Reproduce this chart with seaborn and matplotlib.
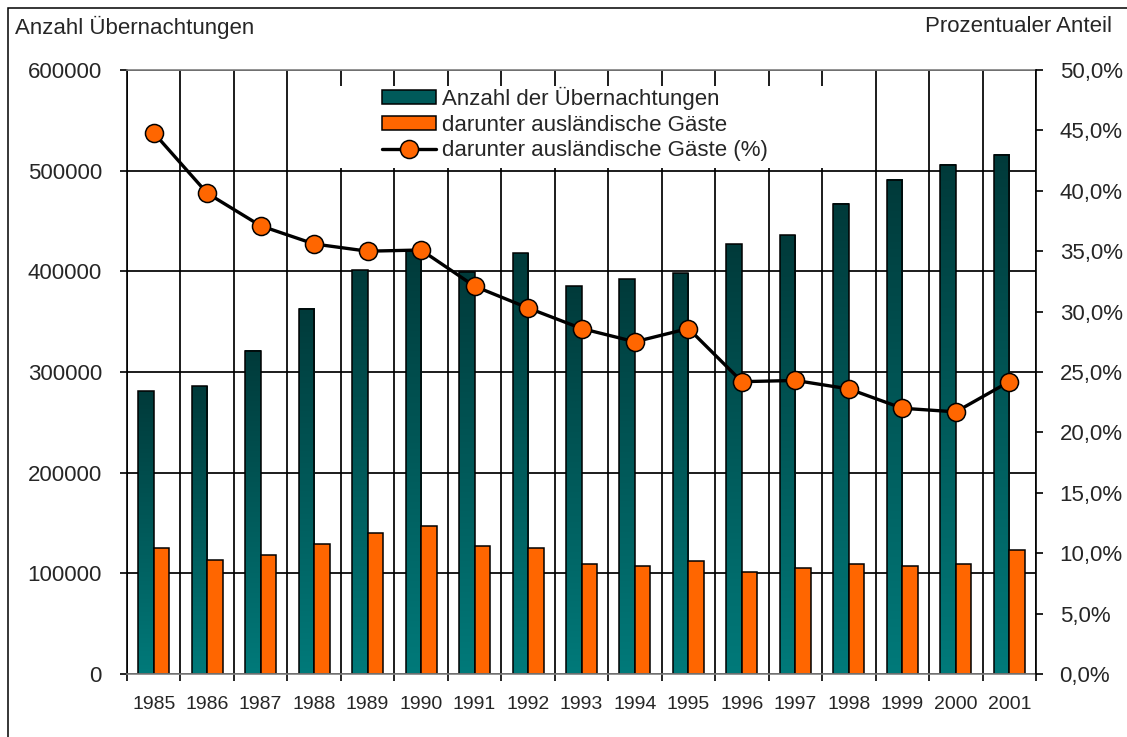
import numpy as np
import pandas as pd
import matplotlib
matplotlib.use("Agg")
import matplotlib.pyplot as plt
import seaborn as sns
from matplotlib.colors import LinearSegmentedColormap
from matplotlib.patches import Patch, Rectangle
from matplotlib.lines import Line2D
from matplotlib.ticker import FixedLocator, FuncFormatter

# Daten
jahre = ["1985", "1986", "1987", "1988", "1989", "1990", "1991", "1992", "1993",
         "1994", "1995", "1996", "1997", "1998", "1999", "2000", "2001"]
uebernachtungen = [281000, 286000, 321000, 363000, 401000, 420000, 399000, 418000, 385000,
                   392000, 398000, 427000, 436000, 467000, 491000, 506000, 516000]
auslaender = [125000, 113000, 118500, 129000, 140000, 147000, 127500, 125000, 109300,
              107000, 112600, 101700, 105000, 109300, 107000, 109300, 123500]
anteil_prozent = [44.8, 39.8, 37.1, 35.6, 35.0, 35.1, 32.1, 30.3, 28.6,
                  27.5, 28.6, 24.2, 24.3, 23.6, 22.0, 21.7, 24.2]
reihen = ["Anzahl der Übernachtungen", "darunter ausländische Gäste", "darunter ausländische Gäste (%)"]
titel_links = "Anzahl Übernachtungen"
titel_rechts = "Prozentualer Anteil"

teal = "#005a5a"
orange = "#ff6600"

sns.set_theme(style="white")
plt.rcParams['font.family'] = ['Liberation Sans', 'DejaVu Sans']

# Long-Format für seaborn
df = pd.DataFrame({
    "Jahr": jahre * 2,
    "Wert": uebernachtungen + auslaender,
    "Reihe": [reihen[0]] * len(jahre) + [reihen[1]] * len(jahre),
})

fig = plt.figure(figsize=(11.27, 7.37), dpi=100)
ax = fig.add_axes([127 / 1127, 1 - 674 / 737, (1036 - 127) / 1127, (674 - 70) / 737])

sns.barplot(data=df, x="Jahr", y="Wert", hue="Reihe", palette=[teal, orange], saturation=1,
            width=0.58, edgecolor="black", linewidth=1.1, legend=False, ax=ax, zorder=1)

# Farbverlauf in den Übernachtungs-Balken (oben dunkel, unten heller)
verlauf = LinearSegmentedColormap.from_list("verlauf", ["#007a7a", "#003a3a"])
grad = np.linspace(0, 1, 256).reshape(-1, 1)
for p in ax.patches:
    fc = p.get_facecolor()
    if fc[0] < 0.2:  # teal-Balken
        x0, y0, w, h = p.get_x(), p.get_y(), p.get_width(), p.get_height()
        ax.imshow(grad, extent=[x0, x0 + w, y0, y0 + h], origin="lower", aspect="auto",
                  cmap=verlauf, zorder=0.9, interpolation="bicubic")
        p.set_facecolor("none")

ax.set_xlim(-0.5, len(jahre) - 0.5)
ax.set_ylim(0, 600000)
ax.set_yticks(np.arange(0, 600001, 100000))
ax.yaxis.set_major_formatter(FuncFormatter(lambda v, pos: f"{int(v)}"))
ax.set_xlabel("")
ax.set_ylabel("")

# Gitter: horizontale Linien und senkrechte Linien zwischen den Jahren
ax.set_axisbelow(True)
ax.xaxis.set_minor_locator(FixedLocator(np.arange(-0.5, len(jahre), 1.0)))
ax.grid(axis="y", which="major", color="black", linewidth=1.25)
ax.grid(axis="x", which="minor", color="black", linewidth=1.25)
ax.grid(axis="x", which="major", visible=False)

ax.tick_params(axis="x", which="major", length=0, pad=16, labelsize=14)
ax.tick_params(axis="x", which="minor", length=5, width=1.2, color="black", direction="out", bottom=True)
ax.tick_params(axis="y", length=5, width=1.2, color="black", direction="out", left=True, pad=13, labelsize=16)

for s in ["top", "bottom"]:
    ax.spines[s].set_color("#808080")
    ax.spines[s].set_linewidth(1.2)
ax.spines["left"].set_color("black")
ax.spines["left"].set_linewidth(1.2)
ax.spines["right"].set_visible(False)

# weiße Fläche hinter der Legende (verdeckt das Gitter)
ax.add_patch(Rectangle((0.2156, 0.837), 0.7866 - 0.2156, 0.9735 - 0.837, transform=ax.transAxes,
                       facecolor="white", edgecolor="none", zorder=0.7))

# rechte Achse mit dem Anteil
ax2 = ax.twinx()
ax2.plot(np.arange(len(jahre)), anteil_prozent, color="black", linewidth=2.4,
         marker="o", markersize=13, markerfacecolor=orange, markeredgecolor="black",
         markeredgewidth=1.1, zorder=3)
ax2.set_ylim(0, 50)
ax2.set_yticks(np.arange(0, 50.1, 5))
ax2.yaxis.set_major_formatter(FuncFormatter(lambda v, pos: f"{v:.1f}".replace(".", ",") + "%"))
ax2.tick_params(axis="y", length=5, width=1.2, color="black", direction="out", right=True, pad=12, labelsize=16)
ax2.grid(False)
for s in ["top", "bottom", "left"]:
    ax2.spines[s].set_visible(False)
ax2.spines["right"].set_color("black")
ax2.spines["right"].set_linewidth(1.2)

# Legende
handles = [
    Patch(facecolor=teal, edgecolor="black", linewidth=1.1),
    Patch(facecolor=orange, edgecolor="black", linewidth=1.1),
    Line2D([0], [0], color="black", linewidth=2.4, marker="o", markersize=13,
           markerfacecolor=orange, markeredgecolor="black", markeredgewidth=1.1),
]
leg = ax2.legend(handles, reihen, loc="upper left",
                 bbox_to_anchor=((382 - 127) / 909, (674 - 87) / 604),
                 fontsize=16, frameon=False,
                 handlelength=2.45, handleheight=0.6, handletextpad=0.27,
                 labelspacing=0.2, borderpad=0, borderaxespad=0)

# Achsentitel oben
fig.text(15 / 1127, 1 - 27 / 737, titel_links, ha="left", va="center", fontsize=16)
fig.text(1112 / 1127, 1 - 27 / 737, titel_rechts, ha="right", va="center", fontsize=16)

# äußerer Rahmen
fig.patches.append(Rectangle((8 / 1127, -0.05), 1.2, 1 - 8 / 737 + 0.05, transform=fig.transFigure,
                             fill=False, edgecolor="black", linewidth=1.1))

fig.savefig("out.png", dpi=100, facecolor="white")
